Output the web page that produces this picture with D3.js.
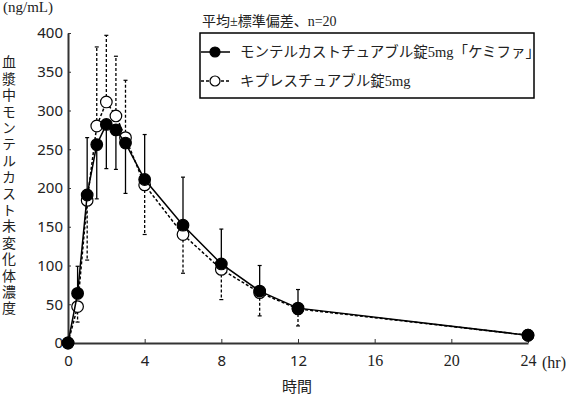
<!DOCTYPE html>
<meta charset="utf-8">
<title>血漿中モンテルカスト未変化体濃度</title>
<style>
  body { margin: 0; background: #fff; }
  text { fill: #222; }
</style>
<body>
<script src="https://cdn.jsdelivr.net/npm/d3@7"></script>
<script>
const width = 573;
const height = 399;

// time points (hr)
const times = [0, 0.5, 1, 1.5, 2, 2.5, 3, 4, 6, 8, 10, 12, 24];
// モンテルカストチュアブル錠5mg「ケミファ」 mean / SD
const testMean = [0, 64, 191, 256, 282, 275, 258, 211, 152, 102, 67, 45, 10];
const testSD   = [0, 35, 74, 70, 57, 51, 65, 58, 62, 45, 33, 24, 3];
// キプレスチュアブル錠5mg mean / SD
const refMean = [0, 47, 184, 280, 311, 293, 265, 204, 140, 95, 65, 44, 10];
const refSD   = [0, 20, 77, 102, 86, 77, 74, 64, 50, 39, 30, 22, 3];

const xTicks = [0, 4, 8, 12, 16, 20, 24];
const yTicks = [0, 50, 100, 150, 200, 250, 300, 350, 400];
const serifTicks = [16, 20, 24];

const legendLabels = ["モンテルカストチュアブル錠5mg「ケミファ」", "キプレスチュアブル錠5mg"];
const yTitle = "血漿中モンテルカスト未変化体濃度";

const sans = "'Noto Sans', 'Noto Sans CJK JP', sans-serif";
const serifJP = "'Liberation Serif', 'Noto Sans CJK JP', serif";

const svg = d3.select("body").append("svg")
  .attr("width", width)
  .attr("height", height);

const x = d3.scaleLinear().domain([0, 24]).range([68, 528]);
const y = d3.scaleLinear().domain([0, 400]).range([343, 33]);

// axes
const xAxis = svg.append("g")
  .attr("transform", "translate(0," + y(0) + ")")
  .call(d3.axisBottom(x).tickValues(xTicks).tickSize(-4).tickSizeOuter(0).tickPadding(12));
xAxis.selectAll("text")
  .style("font-family", d => serifTicks.includes(d) ? "'Liberation Serif', serif" : sans)
  .style("font-size", d => serifTicks.includes(d) ? "16px" : "15px");

const yAxis = svg.append("g")
  .attr("transform", "translate(" + x(0) + ",0)")
  .call(d3.axisLeft(y).tickValues(yTicks).tickSize(-3).tickSizeOuter(0).tickPadding(5));
yAxis.selectAll("text")
  .style("font-family", sans)
  .style("font-size", "15px");

svg.selectAll(".domain").attr("stroke", "#333").attr("stroke-width", 2);
svg.selectAll(".tick line").attr("stroke", "#333").attr("stroke-width", 1);
svg.selectAll(".tick text").attr("fill", "#222");

// (hr) unit
svg.append("text")
  .attr("x", x(24) + 14)
  .attr("y", y(0) + 25)
  .style("font-family", "'Liberation Serif', serif")
  .style("font-size", "16px")
  .text("(hr)");

// axis titles
svg.append("text")
  .attr("x", 297)
  .attr("y", 392)
  .attr("text-anchor", "middle")
  .style("font-family", serifJP)
  .style("font-size", "15px")
  .text("時間");

svg.append("text")
  .attr("x", 3)
  .attr("y", 12)
  .style("font-family", "'Liberation Serif', serif")
  .style("font-size", "15px")
  .text("(ng/mL)");

svg.append("text")
  .attr("x", 9)
  .attr("y", 55)
  .style("writing-mode", "vertical-rl")
  .style("text-orientation", "upright")
  .style("letter-spacing", "2.4px")
  .style("font-family", "'Noto Sans CJK JP', sans-serif")
  .style("font-size", "14px")
  .text(yTitle);

// series: draw reference (open) first, then test (filled) on top
const series = [
  {mean: refMean, sd: refSD, other: testMean, dash: "3,2", fill: "#fff"},
  {mean: testMean, sd: testSD, other: refMean, dash: null, fill: "#000"}
];

const line = d3.line()
  .x((d, i) => x(times[i]))
  .y(d => y(d));

series.forEach(s => {
  const g = svg.append("g");
  // error bars go away from the other series
  const bars = times.map((t, i) => {
    const up = s.mean[i] >= s.other[i];
    return {t: t, from: s.mean[i], to: up ? s.mean[i] + s.sd[i] : s.mean[i] - s.sd[i]};
  }).filter(d => d.from !== d.to);

  g.selectAll("line.err")
    .data(bars)
    .enter()
    .append("line")
    .attr("x1", d => x(d.t))
    .attr("x2", d => x(d.t))
    .attr("y1", d => y(d.from))
    .attr("y2", d => y(d.to))
    .attr("stroke", "#000")
    .attr("stroke-width", 1.3)
    .attr("stroke-dasharray", s.dash);

  g.selectAll("line.cap")
    .data(bars)
    .enter()
    .append("line")
    .attr("x1", d => x(d.t) - 2)
    .attr("x2", d => x(d.t) + 2)
    .attr("y1", d => y(d.to))
    .attr("y2", d => y(d.to))
    .attr("stroke", "#000")
    .attr("stroke-width", 1.2);

  g.append("path")
    .datum(s.mean)
    .attr("d", line)
    .attr("fill", "none")
    .attr("stroke", "#000")
    .attr("stroke-width", 1.5)
    .attr("stroke-dasharray", s.dash);

  g.selectAll("circle")
    .data(s.mean)
    .enter()
    .append("circle")
    .attr("cx", (d, i) => x(times[i]))
    .attr("cy", d => y(d))
    .attr("r", 5.8)
    .attr("fill", s.fill)
    .attr("stroke", "#000")
    .attr("stroke-width", 1.2);
});

// note and legend
svg.append("text")
  .attr("x", 202)
  .attr("y", 26)
  .style("font-family", serifJP)
  .style("font-size", "14px")
  .text("平均±標準偏差、n=20");

svg.append("rect")
  .attr("x", 200)
  .attr("y", 33)
  .attr("width", 334)
  .attr("height", 65)
  .attr("fill", "#fff")
  .attr("stroke", "#000")
  .attr("stroke-width", 1.5);

const legendItems = [
  {label: legendLabels[0], dash: null, fill: "#000", cy: 52},
  {label: legendLabels[1], dash: "3,2", fill: "#fff", cy: 81}
];

const leg = svg.append("g").selectAll("g")
  .data(legendItems)
  .enter()
  .append("g");

leg.append("line")
  .attr("x1", 201)
  .attr("x2", 230)
  .attr("y1", d => d.cy)
  .attr("y2", d => d.cy)
  .attr("stroke", "#000")
  .attr("stroke-width", 1.5)
  .attr("stroke-dasharray", d => d.dash);

leg.append("circle")
  .attr("cx", 215)
  .attr("cy", d => d.cy)
  .attr("r", 5)
  .attr("fill", d => d.fill)
  .attr("stroke", "#000")
  .attr("stroke-width", 1.2);

leg.append("text")
  .attr("x", 240)
  .attr("y", d => d.cy + 5)
  .style("font-family", serifJP)
  .style("font-size", "14.5px")
  .text(d => d.label);
</script>
</body>
